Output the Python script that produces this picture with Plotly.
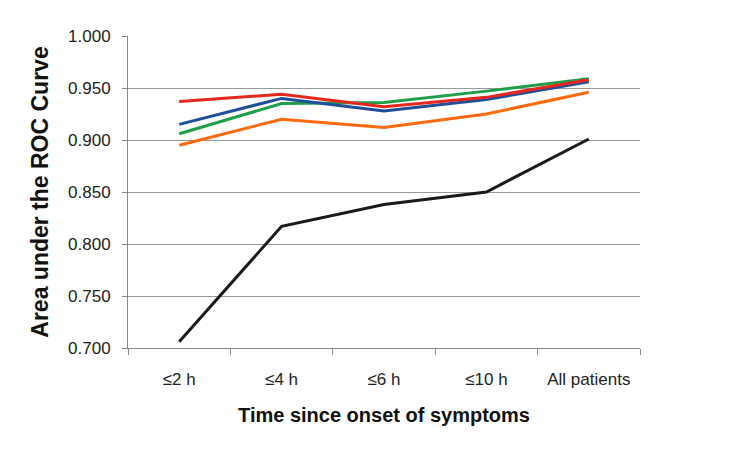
import plotly.graph_objects as go

categories = ["≤2 h", "≤4 h", "≤6 h", "≤10 h", "All patients"]
black_vals = [0.706, 0.817, 0.838, 0.850, 0.901]
orange_vals = [0.895, 0.920, 0.912, 0.925, 0.946]
green_vals = [0.906, 0.935, 0.936, 0.947, 0.959]
blue_vals = [0.915, 0.940, 0.928, 0.939, 0.956]
red_vals = [0.937, 0.944, 0.932, 0.941, 0.958]

series = [
    (black_vals, "#1a1a1a"),
    (orange_vals, "#FF6A0E"),
    (green_vals, "#1E9E48"),
    (blue_vals, "#1F4E9A"),
    (red_vals, "#E5281E"),
]

fig = go.Figure()
for vals, col in series:
    fig.add_trace(go.Scatter(x=categories, y=vals, mode="lines",
                             line=dict(color=col, width=3), showlegend=False))

font = "Liberation Sans, Arial, sans-serif"
fig.update_layout(
    width=740, height=450,
    margin=dict(l=120, r=108, t=28, b=110),
    paper_bgcolor="white", plot_bgcolor="white",
    font=dict(family=font, size=17, color="#222"),
    xaxis=dict(
        type="category", range=[-0.5, 4.5], tickson="boundaries",
        ticks="outside", ticklen=6, automargin=False,
        tickcolor="#888", showline=True, linecolor="#888", linewidth=1,
        showgrid=False, tickfont=dict(size=17, color="#222"),
        ticklabelstandoff=16,
        title=dict(text="<b>Time since onset of symptoms</b>",
                   font=dict(size=20, color="#111"), standoff=19),
    ),
    yaxis=dict(
        range=[0.7, 1.0], dtick=0.05, tick0=0.7, tickformat=".3f",
        ticks="outside", ticklen=5, tickcolor="#888", automargin=False,
        showline=True, linecolor="#888", linewidth=1,
        showgrid=True, gridcolor="#999", gridwidth=1, zeroline=False,
        tickfont=dict(size=17, color="#222"), ticklabelstandoff=8,
        title=dict(text="<b>Area under the ROC Curve</b>",
                   font=dict(size=23, color="#111"), standoff=13),
    ),
)
fig.write_html("out.html")
